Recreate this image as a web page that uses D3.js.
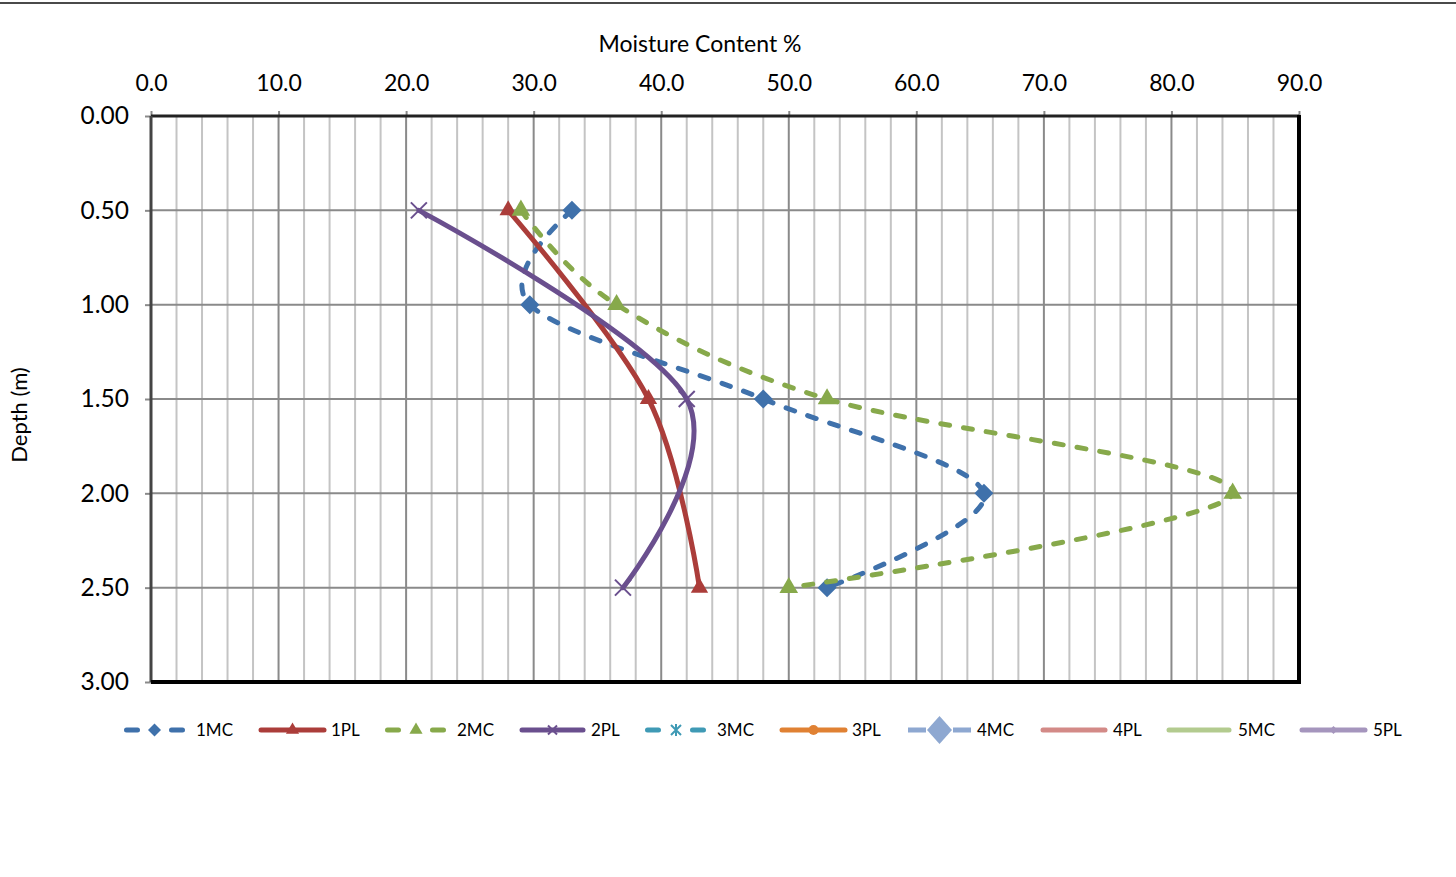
<!DOCTYPE html>
<html>
<head>
<meta charset="utf-8">
<script src="https://cdn.jsdelivr.net/npm/d3@7"></script>
<style>
  html, body { margin: 0; padding: 0; background: #fff; }
  svg { display: block; }
  text { font-family: Lato, "Open Sans", sans-serif; fill: #000; }
</style>
</head>
<body>
<svg id="chart" width="1456" height="877"></svg>
<script>
// Sampled depths (m) and moisture / plastic-limit readings (%)
const depths = [0.5, 1.0, 1.5, 2.0, 2.5];
const depthsPL = [0.5, 1.5, 2.5];
const mc1 = [33.0, 29.7, 48.0, 65.3, 53.0];
const pl1 = [28.0, 39.0, 43.0];
const mc2 = [29.0, 36.5, 53.0, 84.8, 50.0];
const pl2 = [21.0, 42.0, 37.0];

const xTicks = [0, 10, 20, 30, 40, 50, 60, 70, 80, 90];
const yTicks = [0, 0.5, 1.0, 1.5, 2.0, 2.5, 3.0];
const legendNames = ["1MC", "1PL", "2MC", "2PL", "3MC", "3PL", "4MC", "4PL", "5MC", "5PL"];

const svg = d3.select("#chart");
const pLeft = 151, pRight = 1299, pTop = 116, pBottom = 682;

const x = d3.scaleLinear().domain([0, 90]).range([pLeft, pRight]);
const y = d3.scaleLinear().domain([0, 3]).range([pTop, pBottom]);

// frame line along the top edge of the chart area
svg.append("line").attr("x1", 0).attr("x2", 1456).attr("y1", 3).attr("y2", 3)
  .attr("stroke", "#4a4a4a").attr("stroke-width", 2);

// gridlines
const g = svg.append("g");
g.selectAll("line.minor").data(d3.range(2, 90, 2).filter(v => v % 10 !== 0)).join("line")
  .attr("class", "minor")
  .attr("x1", d => x(d)).attr("x2", d => x(d)).attr("y1", pTop).attr("y2", pBottom)
  .attr("stroke", "#c4c4c4").attr("stroke-width", 2);
g.selectAll("line.majorx").data(xTicks.slice(1, -1)).join("line")
  .attr("class", "majorx")
  .attr("x1", d => x(d)).attr("x2", d => x(d)).attr("y1", pTop).attr("y2", pBottom)
  .attr("stroke", "#8a8a8a").attr("stroke-width", 2);
g.selectAll("line.majory").data(yTicks.slice(1, -1)).join("line")
  .attr("class", "majory")
  .attr("x1", pLeft).attr("x2", pRight).attr("y1", d => y(d)).attr("y2", d => y(d))
  .attr("stroke", "#8a8a8a").attr("stroke-width", 2);

// axes
const xAxis = d3.axisTop(x).tickValues(xTicks).tickFormat(d3.format(".1f")).tickSize(5).tickPadding(20);
const xa = svg.append("g").attr("transform", `translate(0,${pTop})`).call(xAxis);
xa.select(".domain").remove();
xa.selectAll(".tick line").attr("stroke", "#8a8a8a").attr("stroke-width", 2);
xa.selectAll(".tick text").attr("font-size", 23).attr("font-family", "Lato, sans-serif").attr("fill", "#000");

const yAxis = d3.axisLeft(y).tickValues(yTicks).tickFormat(d3.format(".2f")).tickSize(6).tickPadding(16);
const ya = svg.append("g").attr("transform", `translate(${pLeft},0)`).call(yAxis);
ya.select(".domain").remove();
ya.selectAll(".tick line").attr("stroke", "#8a8a8a").attr("stroke-width", 2);
ya.selectAll(".tick text").attr("font-size", 24.5).attr("font-family", "Lato, sans-serif").attr("fill", "#000");

// plot frame
svg.append("line").attr("x1", pLeft).attr("x2", pRight).attr("y1", pTop).attr("y2", pTop)
  .attr("stroke", "#222").attr("stroke-width", 3);
svg.append("line").attr("x1", pLeft).attr("x2", pLeft).attr("y1", pTop).attr("y2", pBottom)
  .attr("stroke", "#444").attr("stroke-width", 3);
svg.append("line").attr("x1", pRight).attr("x2", pRight).attr("y1", pTop - 1).attr("y2", pBottom + 2)
  .attr("stroke", "#000").attr("stroke-width", 4);
svg.append("line").attr("x1", pLeft).attr("x2", pRight + 2).attr("y1", pBottom).attr("y2", pBottom)
  .attr("stroke", "#000").attr("stroke-width", 4);

// axis titles
svg.append("text").attr("x", 700).attr("y", 52).attr("text-anchor", "middle")
  .attr("font-size", 23).text("Moisture Content %");
svg.append("text").attr("transform", "translate(27,415) rotate(-90)").attr("text-anchor", "middle")
  .attr("font-size", 22).text("Depth (m)");

// markers
const sym = {
  triangle: d3.symbol().type(d3.symbolTriangle),
  circle: d3.symbol().type(d3.symbolCircle)
};
function marker(sel, kind, color, size, sizeY) {
  if (kind === "x" || kind === "star") {
    const r = size;
    const p = `M${-r},${-r}L${r},${r}M${-r},${r}L${r},${-r}` + (kind === "star" ? `M0,${-r * 1.2}L0,${r * 1.2}` : "");
    sel.append("path").attr("d", p).attr("stroke", color).attr("stroke-width", 2).attr("fill", "none");
  } else if (kind === "diamond") {
    const w = size, h = sizeY || size;
    sel.append("path").attr("d", `M0,${-h}L${w},0L0,${h}L${-w},0Z`).attr("fill", color);
  } else {
    sel.append("path").attr("d", sym[kind].size(size)()).attr("fill", color);
  }
}

const series = [
  { name: "1MC", xs: mc1, ys: depths, color: "#3f71ab", dash: "9,14", marker: "diamond", msize: 9.5 },
  { name: "1PL", xs: pl1, ys: depthsPL, color: "#ab3d3a", dash: null, marker: "triangle", msize: 130 },
  { name: "2MC", xs: mc2, ys: depths, color: "#87a94b", dash: "9,14", marker: "triangle", msize: 150 },
  { name: "2PL", xs: pl2, ys: depthsPL, color: "#6a4f8e", dash: null, marker: "x", msize: 8 }
];

const line = d3.line().x(d => x(d[0])).y(d => y(d[1])).curve(d3.curveCardinal.tension(0));

// each series: line first, then its markers
const plotG = svg.append("g");
series.forEach(s => {
  const pts = s.xs.map((v, i) => [v, s.ys[i]]);
  plotG.append("path").datum(pts).attr("d", line)
    .attr("fill", "none").attr("stroke", s.color).attr("stroke-width", 5)
    .attr("stroke-linecap", "round").attr("stroke-linejoin", "round")
    .attr("stroke-dasharray", s.dash);
  s.xs.forEach((v, i) => {
    const m = plotG.append("g").attr("transform", `translate(${x(v)},${y(s.ys[i])})`);
    marker(m, s.marker, s.color, s.msize);
  });
});

// legend
const legendItems = [
  { color: "#3f71ab", dash: "11,34", cap: "round", marker: "diamond", msize: 6.5, x0: 126.5, x1: 182.5 },
  { color: "#ab3d3a", dash: null, cap: "round", marker: "triangle", msize: 75, x0: 261, x1: 324 },
  { color: "#87a94b", dash: "11,34", cap: "round", marker: "triangle", msize: 75, x0: 387.5, x1: 444.5 },
  { color: "#6a4f8e", dash: null, cap: "round", marker: "x", msize: 4.5, x0: 522, x1: 583 },
  { color: "#3f9ab5", dash: "11,34", cap: "round", marker: "star", msize: 5, x0: 647.5, x1: 704.5 },
  { color: "#e08133", dash: null, cap: "round", marker: "circle", msize: 80, x0: 782, x1: 845 },
  { color: "#8ea8d1", dash: "18,27", cap: "butt", marker: "diamond", msize: 12.5, msizeY: 14, x0: 908, x1: 971 },
  { color: "#d38a87", dash: null, cap: "round", marker: null, msize: 0, x0: 1043, x1: 1105 },
  { color: "#b3cb8f", dash: null, cap: "round", marker: null, msize: 0, x0: 1169, x1: 1229 },
  { color: "#a595bd", dash: null, cap: "round", marker: "diamond", msize: 4, x0: 1302, x1: 1365 }
];
const textX = [196, 331, 457, 591, 717, 852, 977, 1113, 1238, 1373];
const ly = 730;
const lg = svg.append("g");
legendNames.forEach((name, i) => {
  const it = legendItems[i];
  lg.append("line").attr("x1", it.x0).attr("x2", it.x1).attr("y1", ly).attr("y2", ly)
    .attr("stroke", it.color).attr("stroke-width", 5)
    .attr("stroke-linecap", it.cap)
    .attr("stroke-dasharray", it.dash);
  if (it.marker) {
    const m = lg.append("g").attr("transform", `translate(${(it.x0 + it.x1) / 2},${ly})`);
    marker(m, it.marker, it.color, it.msize, it.msizeY);
  }
  lg.append("text").attr("x", textX[i]).attr("y", ly + 6).attr("font-size", 17).text(name);
});
</script>
</body>
</html>
